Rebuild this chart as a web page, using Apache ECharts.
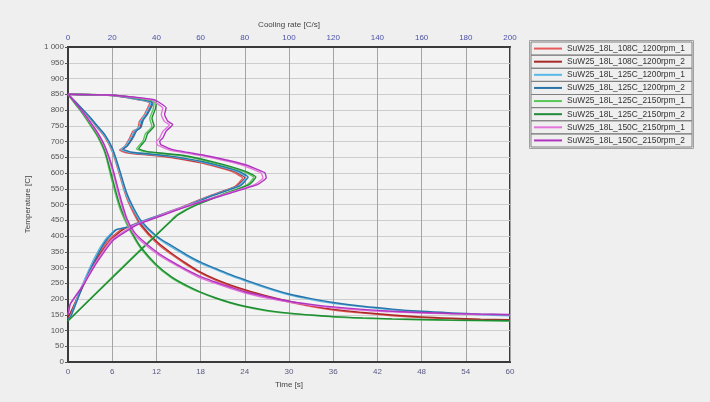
<!DOCTYPE html>
<html>
<head>
<meta charset="utf-8">
<script src="https://cdn.jsdelivr.net/npm/echarts@6/dist/echarts.min.js"></script>
<style>
html,body{margin:0;padding:0;background:#efefef;}
#chart{width:710px;height:402px;}
</style>
</head>
<body>
<div id="chart"></div>
<script>
// ---- data ----
var seriesNames = [
  'SuW25_18L_108C_1200rpm_1','SuW25_18L_108C_1200rpm_2',
  'SuW25_18L_125C_1200rpm_1','SuW25_18L_125C_1200rpm_2',
  'SuW25_18L_125C_2150rpm_1','SuW25_18L_125C_2150rpm_2',
  'SuW25_18L_150C_2150rpm_1','SuW25_18L_150C_2150rpm_2'
];
var times = [0,1,2,3,4,5,6,7,8,9,10,12,14,16,18,20,22,24,27,30,33,36,40,44,48,52,56,60];

// temperature vs time
var temp1 = [850,825,799,772,743,714,668,594,518,468,428,378,342,310,282,260,242,227,207,190,176,165,155,147,141,137,134,132];
var temp2 = [850,826,801,775,747,719,676,604,528,476,434,383,346,314,285,263,245,230,210,193,179,167,157,149,143,139,136,134];
var temp3 = [850,825,800,774,745,717,672,600,525,478,440,397,365,338,313,294,275,258,234,213,198,186,175,166,159,154,150,147];
var temp4 = [850,826,802,777,749,722,680,610,535,485,446,400,370,342,317,297,278,261,237,216,201,189,177,168,161,156,152,149];
var temp5 = [850,818,787,752,715,663,572,490,436,392,356,305,268,241,220,202,187,175,162,154,148,143,139,136,134,132,131,130];
var temp6 = [850,820,790,756,720,670,585,500,443,398,361,309,271,244,222,204,189,177,164,155,149,144,140,137,135,133,132,131];
var temp7 = [850,822,792,760,725,680,610,520,445,405,382,345,316,290,266,250,234,219,203,190,180,172,164,159,155,153,151,150];
var temp8 = [850,823,794,763,729,686,620,532,455,412,388,350,320,294,271,254,238,223,207,193,183,175,167,161,157,154,152,151];

// temperature vs cooling rate: [rate, temperature]
var rate1 = [[0,850],[20,846],[37,822],[34.5,785],[32.3,764],[31.6,742],[29.3,732],[27.8,710],[25.6,684],[23.3,673],[27,663],[42,653],[60,632],[74,605],[79,584],[75.4,557],[63,525],[50,488],[37,455],[30,438],[24,420],[18,385],[12,320],[6,235],[2,170],[0,138]];
var rate2 = [[0,850],[21,846],[38,823],[35.5,786],[33.3,765],[32.6,743],[30.3,733],[28.8,711],[26.6,685],[24.3,674],[28,664],[43,654],[61,633],[75,606],[80,585],[76.4,558],[64,526],[51,489],[38,456],[31,439],[25,421],[19,386],[12.5,321],[6.5,236],[2.2,171],[0,140]];
var rate3 = [[0,850],[20,846],[37.5,822],[35,786],[33,766],[32,744],[30,733],[28.5,712],[26,686],[24,675],[28,665],[43,655],[61,634],[75.5,607],[80.5,586],[77,559],[64.5,527],[51,490],[35,451],[27.2,429],[21.2,419],[16.7,387],[12.2,334],[6.1,238],[0.9,142],[0,135]];
var rate4 = [[0,850],[21,846],[38.5,823],[36,787],[34,767],[33,745],[31,734],[29.5,713],[27,687],[25,676],[29,666],[44,656],[62,635],[76.5,608],[81.5,587],[78,560],[65.5,528],[52,491],[36,452],[28,430],[22,420],[17.5,388],[13,335],[6.6,239],[1.2,143],[0,137]];
var rate5 = [[0,850],[20,847],[39,826],[38.5,802],[37,772],[38,748],[35,724],[34,703],[32,686],[31,676],[35,667],[50,656],[66,632],[79,605],[84,586],[81,562],[69,530],[57,497],[49,466],[46.8,451],[33.8,364],[20.3,272],[0.7,136],[0,130]];
var rate6 = [[0,850],[21,847],[40,827],[39.5,803],[38,773],[39,749],[36,725],[35,704],[33,687],[32,677],[36,668],[51,657],[67,633],[80,606],[85,587],[82,563],[70,531],[58,498],[50,468],[47.5,453],[34.5,366],[21,274],[1,137],[0,131]];
var rate7 = [[0,850],[20,847],[38,832],[40,822],[42.9,806],[42.2,785],[43.6,764],[45.9,753],[42.9,732],[41.4,710],[40,700],[40.5,689],[45.9,673],[61.8,653],[78.4,626],[87.4,600],[88.2,584],[84.4,563],[72.4,536],[57.3,504],[42.3,467],[30.2,435],[19.7,387],[12.2,312],[6.1,238],[0.9,184],[0.3,162],[0,150]];
var rate8 = [[0,850],[21,847],[39,833],[41.5,823],[44.4,807],[43.7,786],[45.1,765],[47.4,754],[44.4,733],[42.9,711],[41.5,701],[42,690],[47.4,674],[63.3,654],[79.9,627],[89,601],[89.7,585],[85.9,564],[73.9,537],[58.8,505],[43.8,468],[31.5,436],[20.7,388],[12.8,313],[6.5,239],[1.1,185],[0.4,163],[0,151]];

var colors = ['#e85a5a','#a82828','#58b8e8','#2a74a8','#58c858','#208a38','#e474dc','#b034c0'];

// ---- build options ----
var temps = [temp1,temp2,temp3,temp4,temp5,temp6,temp7,temp8];
var rates = [rate1,rate2,rate3,rate4,rate5,rate6,rate7,rate8];
var series = [];
for (var i = 0; i < 8; i++) {
  series.push({
    name: seriesNames[i], type: 'line', xAxisIndex: 0, yAxisIndex: 0,
    data: times.map(function (t, k) { return [t, temps[i][k]]; }),
    symbol: 'none', smooth: 0.3, lineStyle: {width: 1.4, color: colors[i]}, itemStyle: {color: colors[i]}
  });
  series.push({
    name: seriesNames[i], type: 'line', xAxisIndex: 1, yAxisIndex: 0,
    data: rates[i],
    symbol: 'none', smooth: 0.15, lineStyle: {width: 1.4, color: colors[i]}, itemStyle: {color: colors[i]}
  });
}

var font = 'Liberation Sans, Arial, sans-serif';
var legendTop = 42, rowH = 13.125;
var graphics = [];
for (var j = 0; j < 8; j++) {
  graphics.push({type: 'rect', shape: {x: 531, y: legendTop + rowH * j, width: 161, height: rowH},
    style: {fill: 'none', stroke: '#808080', lineWidth: 1}, silent: true});
}
graphics.push({type: 'rect', shape: {x: 529.5, y: legendTop - 1.5, width: 164, height: rowH * 8 + 3},
  style: {fill: 'none', stroke: '#a0a0a0', lineWidth: 1}, silent: true});

var chart = echarts.init(document.getElementById('chart'), null, {renderer: 'canvas'});
chart.setOption({
  backgroundColor: '#efefef',
  animation: false,
  color: colors,
  textStyle: {fontFamily: font},
  grid: {left: 68, right: 200, top: 47, bottom: 40, show: true, borderColor: '#3a3a3a', borderWidth: 2, backgroundColor: '#f3f3f3'},
  legend: {
    orient: 'vertical', left: 534, top: legendTop, padding: 0, itemGap: 0, itemWidth: 28, itemHeight: 2, icon: 'rect',
    textStyle: {fontSize: 8.4, color: '#333', lineHeight: 13.125, fontFamily: font},
    data: seriesNames
  },
  graphic: graphics,
  xAxis: [
    {type: 'value', position: 'bottom', min: 0, max: 60, interval: 6,
     name: 'Time [s]', nameLocation: 'middle', nameGap: 18,
     nameTextStyle: {fontSize: 8, color: '#444'},
     axisLine: {show: true, onZero: false, lineStyle: {color: '#3a3a3a', width: 2}},
     axisTick: {show: false},
     axisLabel: {fontSize: 8, color: '#5a5a80', margin: 6},
     splitLine: {show: true, lineStyle: {color: '#a4a4a4', width: 1}}},
    {type: 'value', position: 'top', min: 0, max: 200, interval: 20,
     name: 'Cooling rate [C/s]', nameLocation: 'middle', nameGap: 17,
     nameTextStyle: {fontSize: 8, color: '#444'},
     axisLine: {show: true, onZero: false, lineStyle: {color: '#3a3a3a', width: 2}},
     axisTick: {show: false},
     axisLabel: {fontSize: 8, color: '#4a52a8', margin: 5},
     splitLine: {show: false}}
  ],
  yAxis: [
    {type: 'value', min: 0, max: 1000, interval: 50,
     name: 'Temperature [C]', nameLocation: 'middle', nameGap: 36, nameRotate: 90, nameMoveOverlap: false,
     nameTextStyle: {fontSize: 8, color: '#444'},
     axisLine: {show: true, onZero: false, lineStyle: {color: '#3a3a3a', width: 2}},
     axisTick: {show: true, length: 3, inside: false, lineStyle: {color: '#555'}},
     axisLabel: {fontSize: 8, color: '#555', margin: 4,
       formatter: function (v) { return String(v).replace(/\B(?=(\d{3})+(?!\d))/g, ' '); }},
     splitLine: {show: true, lineStyle: {color: '#cdcdcd', width: 1}}}
  ],
  series: series
});
</script>
</body>
</html>
